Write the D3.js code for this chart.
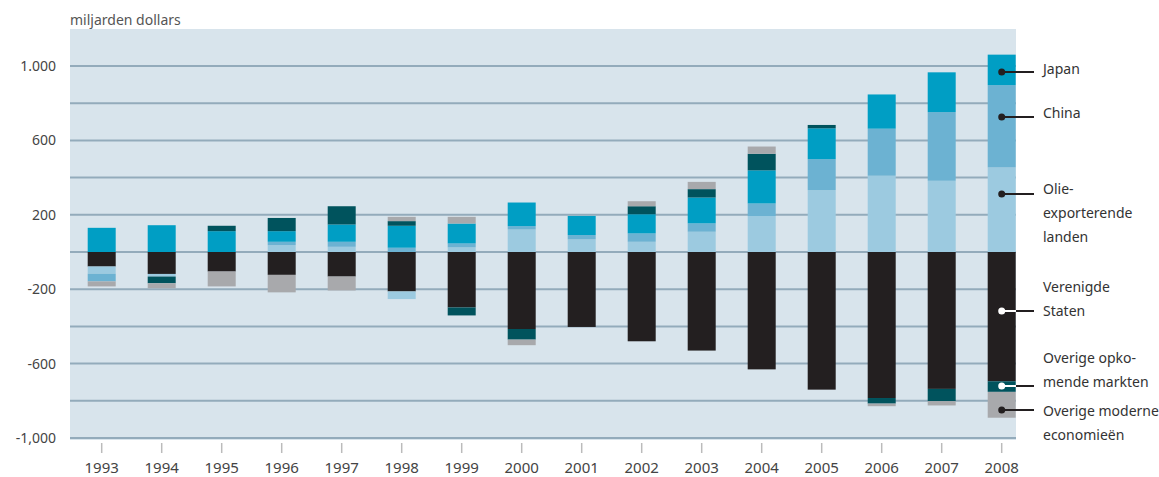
<!DOCTYPE html>
<html>
<head>
  <meta charset="utf-8">
  <title>Lopende rekening</title>
  <script src="https://d3js.org/d3.v7.min.js"></script>
  <style>
    body { margin: 0; background: #fff; }
    text { font-family: "Liberation Sans Narrow", "Noto Sans", sans-serif; }
  </style>
</head>
<body>
  <svg width="1159" height="477" id="mainsvg"></svg>
  <script>
    // data: current account balances, miljarden dollars
    const years = [1993, 1994, 1995, 1996, 1997, 1998, 1999, 2000, 2001, 2002, 2003, 2004, 2005, 2006, 2007, 2008];
    const us        = [-78, -118, -105, -123, -132, -212, -298, -414, -403, -480, -530, -631, -740, -785, -736, -695];
    const oil       = [-39, -14, 0, 37, 28, -41, 25, 121, 68, 55, 109, 193, 333, 410, 383, 455];
    const china     = [-41, 0, 0, 18, 27, 23, 21, 18, 23, 45, 45, 68, 166, 253, 369, 442];
    const japan     = [130, 144, 112, 57, 93, 118, 107, 127, 103, 103, 139, 178, 166, 184, 214, 164];
    const emerging  = [0, -36, 29, 71, 98, 25, -43, -57, 0, 43, 45, 89, 18, -30, -66, -57];
    const advanced  = [-27, -27, -80, -94, -75, 23, 36, -30, 0, 27, 39, 39, 0, -14, -23, -139];

    const gridValues = [-1000, -800, -600, -400, -200, 0, 200, 400, 600, 800, 1000];
    const tickValues = [1000, 600, 200, -200, -600, -1000];
    const tickLabels = ['1.000', '600', '200', '-200', '-600', '-1,000'];

    const seriesKeys = ['us', 'oil', 'china', 'japan', 'emerging', 'advanced'];
    const seriesColors = {
      us: '#231f20', oil: '#9ccae0', china: '#6cb2d2', japan: '#009ec4',
      emerging: '#00535d', advanced: '#a8a9ac'
    };
    // y = dot position, ty = first text line
    const legendItems = [
      { key: 'japan', lines: ['Japan'], y: 72, ty: 69, dot: '#231f20' },
      { key: 'china', lines: ['China'], y: 117, ty: 113, dot: '#231f20' },
      { key: 'oil', lines: ['Olie-', 'exporterende', 'landen'], y: 194, ty: 189, dot: '#231f20' },
      { key: 'us', lines: ['Verenigde', 'Staten'], y: 311, ty: 287, dot: '#ffffff' },
      { key: 'emerging', lines: ['Overige opko-', 'mende markten'], y: 386, ty: 358, dot: '#ffffff' },
      { key: 'advanced', lines: ['Overige moderne', 'economieën'], y: 410, ty: 411, dot: '#231f20' }
    ];

    const svg = d3.select('#mainsvg');
    const plot = { left: 70, right: 1016, top: 29, bottom: 440 };

    const table = years.map((yr, i) => ({
      year: yr, us: us[i], oil: oil[i], china: china[i], japan: japan[i],
      emerging: emerging[i], advanced: advanced[i]
    }));

    const xScale = d3.scalePoint().domain(years).range([101.7, 1001.7]);
    const yScale = d3.scaleLinear().domain([-1000, 1000]).range([438, 66]);
    const barWidth = 28;

    // background
    svg.append('rect')
      .attr('x', plot.left).attr('y', plot.top)
      .attr('width', plot.right - plot.left).attr('height', plot.bottom - plot.top)
      .attr('fill', '#d8e4ec');

    // gridlines
    svg.append('g').selectAll('line').data(gridValues).join('line')
      .attr('x1', plot.left).attr('x2', plot.right)
      .attr('y1', d => yScale(d)).attr('y2', d => yScale(d))
      .attr('stroke', '#93abbb').attr('stroke-width', 2);

    // y labels
    svg.append('g').selectAll('text').data(tickValues).join('text')
      .attr('x', 56).attr('y', d => yScale(d))
      .attr('dy', '0.35em').attr('text-anchor', 'end')
      .attr('font-size', 14).attr('fill', '#444')
      .text((d, i) => tickLabels[i]);

    svg.append('text')
      .attr('x', 70).attr('y', 25)
      .attr('font-size', 14).attr('fill', '#555')
      .text('miljarden dollars');

    // stacked bars
    const stack = d3.stack().keys(seriesKeys).offset(d3.stackOffsetDiverging);
    const layers = stack(table);

    svg.append('g').selectAll('g').data(layers).join('g')
      .attr('fill', d => seriesColors[d.key])
      .selectAll('rect').data(d => d).join('rect')
      .attr('x', d => xScale(d.data.year) - barWidth / 2)
      .attr('width', barWidth)
      .attr('y', d => yScale(d[1]))
      .attr('height', d => Math.abs(yScale(d[0]) - yScale(d[1])));

    // x axis ticks and labels
    const xg = svg.append('g');
    xg.selectAll('line').data(years).join('line')
      .attr('x1', d => xScale(d)).attr('x2', d => xScale(d))
      .attr('y1', 443).attr('y2', 453)
      .attr('stroke', '#bbb').attr('stroke-width', 1.5);
    xg.selectAll('text').data(years).join('text')
      .attr('x', d => xScale(d)).attr('y', 473)
      .attr('text-anchor', 'middle')
      .attr('font-size', 15).attr('fill', '#444')
      .text(d => d);

    // legend
    const dotX = xScale(2008);
    const lg = svg.append('g');
    legendItems.forEach(item => {
      lg.append('line')
        .attr('x1', dotX).attr('x2', 1034)
        .attr('y1', item.y).attr('y2', item.y)
        .attr('stroke', '#231f20').attr('stroke-width', 2);
      lg.append('line')
        .attr('x1', dotX).attr('x2', plot.right)
        .attr('y1', item.y).attr('y2', item.y)
        .attr('stroke', item.dot).attr('stroke-width', 2);
      lg.append('circle')
        .attr('cx', dotX).attr('cy', item.y).attr('r', 3.5)
        .attr('fill', item.dot);
      item.lines.forEach((ln, j) => {
        lg.append('text')
          .attr('x', 1043)
          .attr('y', item.ty + j * 24)
          .attr('dy', '0.35em')
          .attr('font-size', 14).attr('fill', '#333')
          .text(ln);
      });
    });
  </script>
</body>
</html>
